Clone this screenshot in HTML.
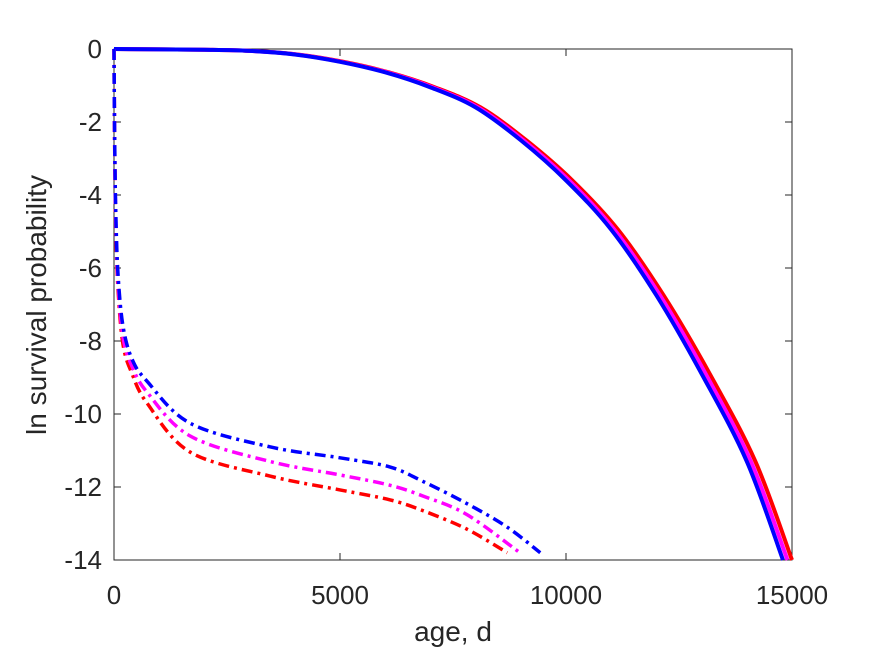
<!DOCTYPE html>
<html><head><meta charset="utf-8"><style>
body{margin:0;background:#fff;}
svg text{font-family:"Liberation Sans",Arial,sans-serif;fill:#262626;}
</style></head><body>
<svg width="875" height="656" viewBox="0 0 875 656">
<g id="axes"></g>
<g id="plot"></g>
</svg>
<script>
const xTicks=[0,5000,10000,15000];
const yTicks=[0,-2,-4,-6,-8,-10,-12,-14];
const solidRedAge=[0,2000,3000,4060,5070,6080,7100,8110,9120,10140,11150,12160,13180,14190,15000];
const solidRedVal=[0,-0.02,-0.05,-0.15,-0.35,-0.64,-1.05,-1.6,-2.5,-3.6,-4.95,-6.75,-8.9,-11.3,-14];
const solidMagAge=[0,2000,3000,4030,5030,6040,7050,8050,9060,10070,11070,12080,13090,14090,14900];
const solidMagVal=[0,-0.02,-0.05,-0.15,-0.35,-0.64,-1.05,-1.6,-2.5,-3.6,-4.95,-6.75,-8.9,-11.3,-14];
const solidBlueAge=[0,2000,3000,4000,5000,6000,7000,8000,9000,10000,11000,12000,13000,14000,14800];
const solidBlueVal=[0,-0.02,-0.05,-0.15,-0.35,-0.64,-1.05,-1.6,-2.5,-3.6,-4.95,-6.75,-8.9,-11.3,-14];
const dashBlueAge=[0,15,40,90,200,400,730,1680,3450,5000,6100,6840,7800,8700,9430];
const dashBlueVal=[0,-2.5,-4.5,-6.2,-7.6,-8.5,-9.1,-10.25,-10.9,-11.2,-11.45,-11.85,-12.45,-13.1,-13.8];
const dashMagAge=[0,15,40,90,200,400,730,1680,3450,5000,6100,6840,7800,8980];
const dashMagVal=[0,-2.6,-4.7,-6.4,-7.9,-8.7,-9.4,-10.6,-11.3,-11.67,-11.95,-12.25,-12.75,-13.8];
const dashRedAge=[0,15,40,90,200,400,730,1680,3450,5000,6100,6840,7800,8700];
const dashRedVal=[0,-2.7,-4.9,-6.6,-8.1,-8.9,-9.7,-11.04,-11.7,-12.08,-12.35,-12.65,-13.15,-13.8];

const X0=114,X1=792,Y0=49,Y1=560;
const sx=v=>X0+(v-0)/15000*(X1-X0);
const sy=v=>Y0+(0-v)/14*(Y1-Y0);
const NS='http://www.w3.org/2000/svg';
function mk(tag,attrs,parent){const e=document.createElementNS(NS,tag);for(const k in attrs)e.setAttribute(k,attrs[k]);parent.appendChild(e);return e;}
const ax=document.getElementById('axes'),pl=document.getElementById('plot');
const box=mk('rect',{x:X0,y:Y0,width:X1-X0,height:Y1-Y0,fill:'#fff',stroke:'#262626','stroke-width':1},ax);


xTicks.forEach(t=>{
  const x=sx(t);
  const l1=mk('line',{x1:x,x2:x,y1:Y1,y2:Y1-7,stroke:'#262626'},ax);
  
  
  const l2=mk('line',{x1:x,x2:x,y1:Y0,y2:Y0+7,stroke:'#262626'},ax);
  
  
  const tx=mk('text',{x:x,y:604,'text-anchor':'middle','font-size':26},ax);
  tx.textContent=t;
  
  
});
yTicks.forEach(t=>{
  const y=sy(t);
  const l1=mk('line',{x1:X0,x2:X0+7,y1:y,y2:y,stroke:'#262626'},ax);
  
  
  const l2=mk('line',{x1:X1,x2:X1-7,y1:y,y2:y,stroke:'#262626'},ax);
  
  
  const tx=mk('text',{x:102,y:y+9,'text-anchor':'end','font-size':26},ax);
  tx.textContent=t===0?'0':'-'+Math.abs(t);
  
  
});
const xl=mk('text',{x:453,y:641,'text-anchor':'middle','font-size':28},ax);
xl.textContent='age, d';


const yl=mk('text',{x:0,y:0,'text-anchor':'middle','font-size':28,transform:'translate(46,305) rotate(-90)'},ax);
yl.textContent='ln survival probability';



function pathD(ages,vals){
  const p=ages.map((a,i)=>[sx(a),sy(vals[i])]);
  let d='M'+p[0][0]+','+p[0][1];
  for(let i=0;i<p.length-1;i++){
    const p0=p[Math.max(0,i-1)],p1=p[i],p2=p[i+1],p3=p[Math.min(p.length-1,i+2)];
    const c1=[p1[0]+(p2[0]-p0[0])/6,p1[1]+(p2[1]-p0[1])/6];
    const c2=[p2[0]-(p3[0]-p1[0])/6,p2[1]-(p3[1]-p1[1])/6];
    d+=' C'+c1+' '+c2+' '+p2;
  }
  return d;
}
function series(ages,vals,color,dash,name){
  const a={d:pathD(ages,vals),fill:'none',stroke:color,'stroke-width':dash?3.5:4,'stroke-linejoin':'round'};
  if(dash)a['stroke-dasharray']='11 5 3 5';
  const e=mk('path',a,pl);
  
  
}
series(solidRedAge,solidRedVal,'#ff0000',false,'solid-red-series');
series(solidMagAge,solidMagVal,'#ff00ff',false,'solid-magenta-series');
series(solidBlueAge,solidBlueVal,'#0000ff',false,'solid-blue-series');
series(dashRedAge,dashRedVal,'#ff0000',true,'dashdot-red-series');
series(dashMagAge,dashMagVal,'#ff00ff',true,'dashdot-magenta-series');
series(dashBlueAge,dashBlueVal,'#0000ff',true,'dashdot-blue-series');
</script>
</body></html>
